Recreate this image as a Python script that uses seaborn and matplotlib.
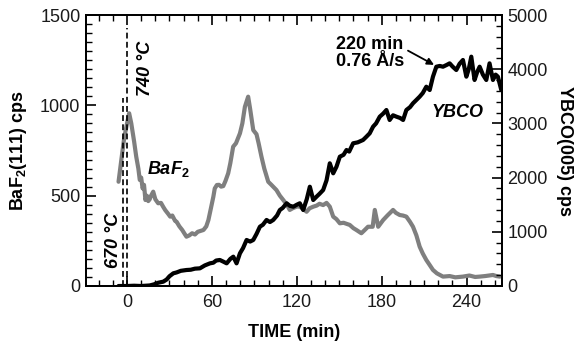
import matplotlib
matplotlib.use("Agg")
import matplotlib.pyplot as plt
import seaborn as sns
import pandas as pd
from matplotlib.ticker import MultipleLocator

# ---------------- data ----------------
baf2_time = [-6, -4, -2, 0, 1.5, 3, 5, 6.5, 8, 9, 10, 11, 12, 13, 14, 15, 16, 17, 18.5, 20,
             22, 24, 25.5, 27, 29, 30.5, 32, 34, 35, 37, 39, 41, 42, 44, 46, 48, 50, 52, 54, 56,
             57.5, 59, 61, 62, 63.5, 65, 66.5, 68, 69.5, 71.5, 73, 75, 77, 79.8, 81.5, 83.3, 85.6, 87, 89.2, 91.5,
             93, 95, 97, 99.8, 102, 105.6, 108, 110.4, 113, 115, 117, 120, 122, 124, 126.9, 129, 131.6, 134, 136, 138.6,
             141, 143.3, 145.7, 148, 150.4, 153, 157.4, 160, 162.1, 165.6, 168, 170.3, 173.6, 175.1, 177.5, 181, 184, 188, 190, 192.7,
             195, 197.4, 200, 202.1, 204.5, 206.8, 209, 211.5, 214, 216.2, 219, 223.3, 228, 232, 237.4, 242, 246, 249.2, 253, 258.6,
             261, 263.5]
baf2_cps = [577, 700, 820, 900, 956, 900, 800, 716, 650, 587, 600, 540, 560, 476, 500, 470, 480, 500, 522, 480,
            458, 460, 439, 420, 400, 384, 390, 360, 356, 330, 310, 285, 273, 280, 292, 285, 300, 305, 310, 330,
            365, 420, 494, 540, 559, 560, 550, 553, 580, 624, 680, 771, 790, 845, 900, 992, 1048, 980, 863, 840,
            790, 716, 650, 577, 560, 531, 500, 476, 450, 421, 430, 440, 439, 430, 411, 430, 439, 445, 455, 448,
            460, 439, 384, 370, 347, 350, 338, 320, 310, 292, 310, 328, 328, 421, 328, 365, 390, 421, 405, 393,
            390, 384, 355, 328, 280, 218, 180, 144, 115, 89, 70, 52, 55, 48, 52, 58, 50, 52, 55, 61,
            55, 52]

ybco_time = [-6, 0, 5, 10, 16, 19, 22, 25.6, 28, 30, 32.7, 35, 38, 42, 45, 48, 51.5, 55, 58.6, 61,
             63, 65.6, 68, 70.4, 73, 75.1, 77.4, 79.8, 82, 84.5, 87, 89.2, 91.5, 93.9, 96, 98.6, 101, 103.3, 106, 108,
             110, 112.8, 115, 117.5, 120, 122.1, 124.5, 127, 129.2, 131.6, 134, 136, 138.6, 141, 143.3, 145.7, 148, 150.4, 153, 155.1,
             157, 159.8, 163, 166.8, 169, 171.5, 173.9, 176, 178.6, 181, 183.3, 185.6, 188, 190.4, 193, 195.1, 197.4, 200, 202.1, 204,
             206.8, 209, 211.5, 213.9, 216.2, 218.6, 221, 223.3, 226, 228, 230, 232.7, 235, 237.4, 239.8, 241.5, 243.3, 245.6, 247.5, 249.2,
             251.5, 253.9, 256.2, 258.6, 260.5, 262.1, 264.5]
ybco_cps = [0, 0, 5, 0, 10, 30, 60, 80, 120, 180, 234, 250, 280, 295, 300, 320, 326, 380, 418, 430,
            470, 480, 450, 418, 500, 541, 418, 603, 700, 849, 820, 849, 960, 1094, 1130, 1218, 1180, 1218, 1300, 1402,
            1440, 1526, 1480, 1463, 1500, 1526, 1402, 1600, 1832, 1587, 1650, 1700, 1771, 1950, 2264, 2079, 2200, 2386, 2420, 2509,
            2480, 2633, 2650, 2694, 2750, 2817, 2940, 3000, 3124, 3180, 3247, 3063, 3150, 3124, 3100, 3063, 3247, 3300, 3371, 3420,
            3493, 3560, 3677, 3616, 3862, 4046, 4060, 4046, 4080, 4108, 4050, 3985, 4100, 4170, 3862, 4000, 4231, 3801, 3950, 4046,
            3900, 3801, 4108, 3801, 3900, 3862, 3616]

temp_time = [-3, 0]          # dashed markers (min)
temp_top = [1040, 1430]      # top of dashed markers (BaF2 scale)
temp_labels = ["670 °C", "740 °C"]

x_ticks = [0, 60, 120, 180, 240]

# ---------------- style ----------------
sns.set_style("ticks")
plt.rcParams["font.family"] = ["Liberation Sans", "DejaVu Sans"]
plt.rcParams["text.color"] = "black"
plt.rcParams["axes.labelcolor"] = "black"
plt.rcParams["mathtext.fontset"] = "custom"
plt.rcParams["mathtext.rm"] = "Liberation Sans:bold"
plt.rcParams["mathtext.bf"] = "Liberation Sans:bold"
plt.rcParams["mathtext.it"] = "Liberation Sans:italic:bold"

fig = plt.figure(figsize=(5.79, 3.43), dpi=100)
ax = fig.add_axes([86/579, 1-286/343, (502-86)/579, (286-15)/343])
ax2 = ax.twinx()

df_b = pd.DataFrame({"t": baf2_time, "v": baf2_cps})
df_y = pd.DataFrame({"t": ybco_time, "v": ybco_cps})

sns.lineplot(data=df_b, x="t", y="v", ax=ax, color="#7f7f7f", lw=3.0, estimator=None, sort=False)
sns.lineplot(data=df_y, x="t", y="v", ax=ax2, color="black", lw=3.0, estimator=None, sort=False)

ax.vlines(temp_time, [0, 0], temp_top, colors="black", linestyles=(0, (3.5, 2)), lw=1.2)

ax.set_xlim(-29, 265)
ax.set_ylim(0, 1500)
ax2.set_ylim(0, 5000)
ax.set_xticks(x_ticks)
ax.set_yticks([0, 500, 1000, 1500])
ax2.set_yticks([0, 1000, 2000, 3000, 4000, 5000])
ax.xaxis.set_minor_locator(MultipleLocator(10))
ax.yaxis.set_minor_locator(MultipleLocator(50))
ax2.yaxis.set_minor_locator(MultipleLocator(200))

ax.tick_params(axis="x", which="both", direction="in", top=True, bottom=True, labelsize=13,
               color="black", labelcolor="#1a1a1a", pad=6)
ax.tick_params(axis="y", which="both", direction="in", labelsize=13, color="black", labelcolor="#1a1a1a", pad=4)
ax2.tick_params(axis="y", which="both", direction="in", labelsize=13, color="black", labelcolor="#1a1a1a", pad=4)
for a in (ax, ax2):
    a.tick_params(which="major", length=7, width=1.2)
    a.tick_params(which="minor", length=4, width=1.0)
    for s in a.spines.values():
        s.set_linewidth(1.3)
        s.set_color("black")
        s.set_visible(True)

ax.set_xlabel("TIME (min)", fontsize=13, fontweight="bold", labelpad=9)
ax.set_ylabel(r"BaF$_\mathbf{2}$(111) cps", fontsize=13, fontweight="bold", labelpad=8)
ax2.set_ylabel("YBCO(005) cps", fontsize=13, fontweight="bold", rotation=270, labelpad=18)

# annotations
ax.text(12.7, 1206, temp_labels[1], rotation=90, fontsize=13, fontweight="bold", fontstyle="italic",
        ha="center", va="center")
ax.text(-9.9, 255, temp_labels[0], rotation=90, fontsize=13, fontweight="bold", fontstyle="italic",
        ha="center", va="center")
ax.text(14, 650, r"$\mathit{BaF_2}$", fontsize=13, ha="left", va="center")
ax.text(215, 963, "YBCO", fontsize=13, fontweight="bold", fontstyle="italic", ha="left", va="center")
ax2.annotate("220 min\n0.76 Å/s", xy=(217, 4080), xytext=(148, 4300),
             fontsize=13, fontweight="bold", ha="left", va="center", linespacing=1.0,
             arrowprops=dict(arrowstyle="-|>", color="black", lw=1.3, mutation_scale=10,
                             shrinkA=0, shrinkB=0, relpos=(1.0, 0.62)))

fig.savefig("out.png", dpi=100)
